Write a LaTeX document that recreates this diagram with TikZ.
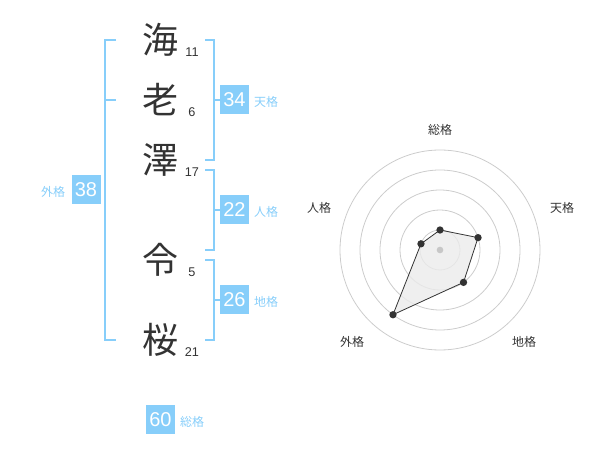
\documentclass[tikz,border=0pt]{standalone}
\usepackage{fontspec}
\setmainfont{Liberation Sans}
\newfontfamily\jp{Noto Sans CJK JP}
\definecolor{sky}{RGB}{135,206,250}
\definecolor{ink}{RGB}{51,51,51}
\begin{document}
\begin{tikzpicture}[x=0.75pt,y=-0.75pt,
  kanji/.style={font=\jp\fontsize{27pt}{27pt}\selectfont,text=ink,inner sep=0},
  stroke/.style={font=\fontsize{9.5pt}{10pt}\selectfont,text=ink,inner sep=0},
  scorebox/.style={fill=sky,text=white,minimum width=21.75pt,minimum height=21.75pt,inner sep=0,font=\fontsize{15pt}{15pt}\selectfont},
  kaku/.style={font=\jp\fontsize{9pt}{10pt}\selectfont,text=sky,inner sep=0},
  bracket/.style={draw=sky,line width=1.5pt},
  ring/.style={draw=black!20,line width=0.6pt},
  axislab/.style={font=\jp\fontsize{9pt}{10pt}\selectfont,text=ink,inner sep=0},
  dot/.style={circle,fill=ink,inner sep=0,minimum size=5.5pt}]
\useasboundingbox (0,0) rectangle (600,470);
% kanji
\node[kanji] (k1) at (160,40) {海};
\node[kanji] (k2) at (160,100) {老};
\node[kanji] (k3) at (160,160) {澤};
\node[kanji] (k4) at (160,260) {令};
\node[kanji] (k5) at (160,340) {桜};
\node[stroke] (s1) at (192,52) {11};
\node[stroke] (s2) at (192,112) {6};
\node[stroke] (s3) at (192,172) {17};
\node[stroke] (s4) at (192,272) {5};
\node[stroke] (s5) at (192,352) {21};
% left bracket (外格)
\draw[bracket] (116,40) -- (105,40) -- (105,340) -- (116,340);
\draw[bracket] (105,100) -- (116,100);
\node[scorebox] (gai) at (86,190) {38};
\node[kaku] (gail) at (53,192) {外格};
% 天格
\draw[bracket] (205,40) -- (214,40) -- (214,160) -- (205,160);
\draw[bracket] (214,100) -- (220,100);
\node[scorebox] (ten) at (234.5,100) {34};
\node[kaku] (tenl) at (266,102) {天格};
% 人格
\draw[bracket] (205,170) -- (214,170) -- (214,250) -- (205,250);
\draw[bracket] (214,210) -- (220,210);
\node[scorebox] (jin) at (234.5,210) {22};
\node[kaku] (jinl) at (266,212) {人格};
% 地格
\draw[bracket] (205,260) -- (214,260) -- (214,340) -- (205,340);
\draw[bracket] (214,300) -- (220,300);
\node[scorebox] (chi) at (234.5,300) {26};
\node[kaku] (chil) at (266,302) {地格};
% 総格
\node[scorebox] (sou) at (160.5,419.5) {60};
\node[kaku] (soul) at (192,422) {総格};
% radar
\coordinate (c) at (440,250);
\foreach \r in {20,40,60,80,100} \draw[ring] (c) circle[radius=\r*0.75pt];
\path (c) ++(-90:20) coordinate (p1);
\path (c) ++(-18:40) coordinate (p2);
\path (c) ++(54:40) coordinate (p3);
\path (c) ++(126:80) coordinate (p4);
\path (c) ++(198:20) coordinate (p5);
\filldraw[fill=black!8,fill opacity=0.8,draw=ink,line width=0.6pt] (p1) -- (p2) -- (p3) -- (p4) -- (p5) -- cycle;
\fill[black!22] (c) circle[radius=2.5pt];
\foreach \i in {1,...,5} \node[dot] (d\i) at (p\i) {};
\node[axislab] (a1) at (440,130) {総格};
\node[axislab] (a2) at (562,208) {天格};
\node[axislab] (a3) at (524,342) {地格};
\node[axislab] (a4) at (352,342) {外格};
\node[axislab] (a5) at (319,208) {人格};
\end{tikzpicture}
\end{document}
